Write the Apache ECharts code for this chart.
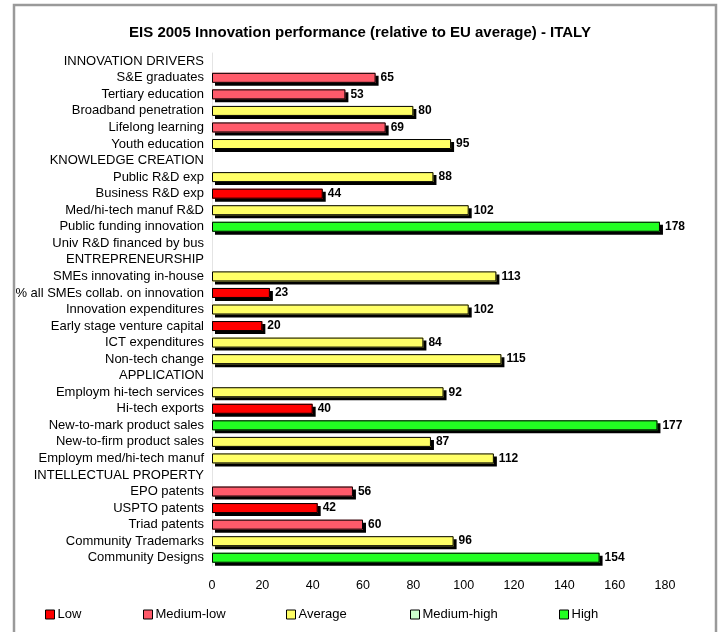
<!DOCTYPE html>
<html><head><meta charset="utf-8">
<script src="https://cdn.jsdelivr.net/npm/echarts@6/dist/echarts.min.js"></script>
<style>html,body{margin:0;padding:0;background:#fff}#c{width:720px;height:632px}</style>
</head><body><div id="c"></div>
<script>
var categories = ["INNOVATION DRIVERS","S&E graduates","Tertiary education","Broadband penetration","Lifelong learning","Youth education","KNOWLEDGE CREATION","Public R&D exp","Business R&D exp","Med/hi-tech manuf R&D","Public funding innovation","Univ R&D financed by bus","ENTREPRENEURSHIP","SMEs innovating in-house","% all SMEs collab. on innovation","Innovation expenditures","Early stage venture capital","ICT expenditures","Non-tech change","APPLICATION","Employm hi-tech services","Hi-tech exports","New-to-mark product sales","New-to-firm product sales","Employm med/hi-tech manuf","INTELLECTUAL PROPERTY","EPO patents","USPTO patents","Triad patents","Community Trademarks","Community Designs"];
var values = [null,65,53,80,69,95,null,88,44,102,178,null,null,113,23,102,20,84,115,null,92,40,177,87,112,null,56,42,60,96,154];
var classes = [null,"Medium-low","Medium-low","Average","Medium-low","Average",null,"Average","Low","Average","High",null,null,"Average","Low","Average","Low","Average","Average",null,"Average","Low","High","Average","Average",null,"Medium-low","Low","Medium-low","Average","High"];
var classNames = ["Low","Medium-low","Average","Medium-high","High"];
var classColors = ["#FF0000","#FF5A6A","#FFFF66","#CCFFCC","#22FF22"];
var xTicks = [0,20,40,60,80,100,120,140,160,180];

var font = "'Liberation Sans', Arial, Helvetica, sans-serif";
var BW = 10;
var series = classNames.map(function(cn, k){
  return {
    name: cn, type: 'bar', barWidth: BW, barGap: '-100%',
    data: values.map(function(v,i){ return classes[i] === cn ? v : '-'; }),
    itemStyle: { color: classColors[k], borderWidth: 0,
      shadowColor: '#000', shadowBlur: 0, shadowOffsetX: 3, shadowOffsetY: 3 },
    emphasis: { disabled: true }, animation: false, silent: true
  };
});
series.push({
  name: 'outline', type: 'bar', barWidth: BW, barGap: '-100%',
  data: values.map(function(v){ return v === null ? '-' : v; }),
  itemStyle: { color: 'rgba(0,0,0,0)', borderColor: '#000', borderWidth: 1 },
  label: { show: true, position: 'right', distance: 5, color: '#000',
    fontFamily: font, fontWeight: 'bold', fontSize: 12 },
  emphasis: { disabled: true }, animation: false, silent: true
});
var legendLefts = [45, 143, 286, 410, 559];
var legends = classNames.map(function(cn,k){
  return { data: [cn], left: legendLefts[k], top: 608, padding: 0, itemWidth: 9, itemHeight: 9,
    itemGap: 3, icon: 'rect', itemStyle: { borderColor: '#000', borderWidth: 1, shadowBlur: 0, shadowOffsetX: 0, shadowOffsetY: 0, shadowColor: 'rgba(0,0,0,0)' },
    textStyle: { fontFamily: font, fontSize: 13, color: '#000', padding: [0,0,0,-2] }, selectedMode: false };
});
var chart = echarts.init(document.getElementById('c'));
chart.setOption({
  animation: false,
  title: { text: 'EIS 2005 Innovation performance (relative to EU average) - ITALY', left: 'center', top: 20,
    textStyle: { fontFamily: font, fontSize: 15, fontWeight: 'bold', color: '#000' } },
  legend: legends,
  grid: { left: 212, top: 53, width: 453, height: 513 },
  xAxis: { type: 'value', min: xTicks[0], max: xTicks[xTicks.length-1], interval: 20,
    axisLine: { show: false }, axisTick: { show: false }, splitLine: { show: false },
    axisLabel: { margin: 13, color: '#000', fontFamily: font, fontSize: 12.5 } },
  yAxis: { type: 'category', data: categories, inverse: true,
    axisLine: { show: true, lineStyle: { color: '#e4e4e4', width: 1 } }, axisTick: { show: false },
    axisLabel: { margin: 8, interval: 0, color: '#000', fontFamily: font, fontSize: 13 } },
  graphic: [{ type: 'rect', shape: { x: 14, y: 5, width: 702, height: 640 }, silent: true,
    style: { fill: null, stroke: '#9a9a9a', lineWidth: 2.5 } }],
  series: series
});
</script></body></html>
